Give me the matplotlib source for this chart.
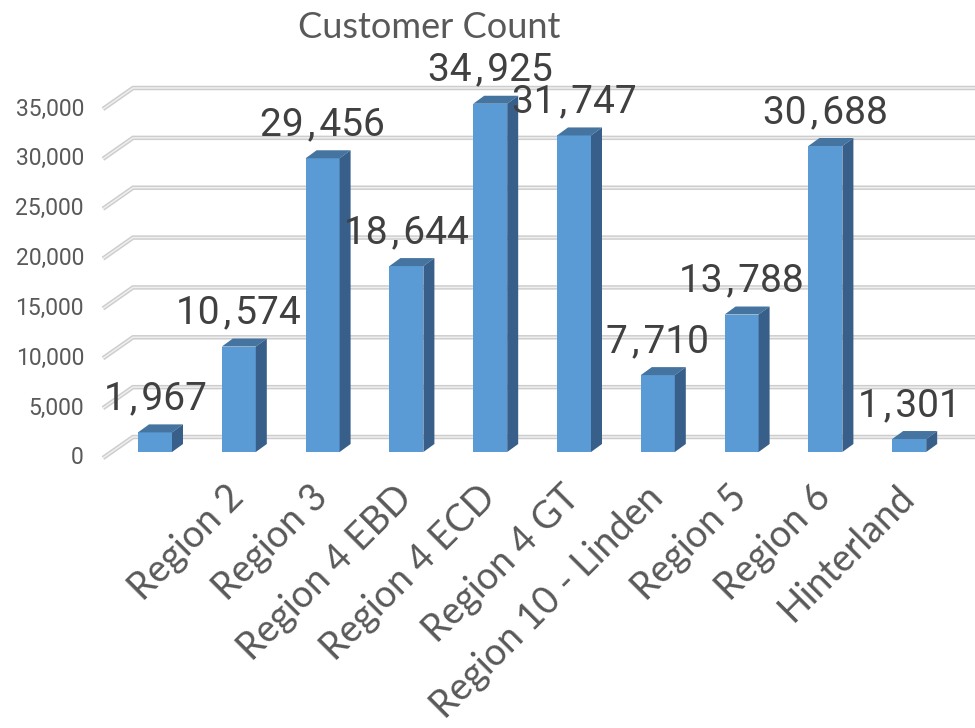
import matplotlib
matplotlib.use("Agg")
import matplotlib.pyplot as plt
from matplotlib.patches import Polygon

# Data
categories = ["", "Region 2", "Region 3", "Region 4 EBD", "Region 4 ECD",
              "Region 4 GT", "Region 10 - Linden", "Region 5", "Region 6",
              "Hinterland"]
customers = [1967, 10574, 29456, 18644, 34925, 31747, 7710, 13788, 30688, 1301]
y_ticks = [0, 5000, 10000, 15000, 20000, 25000, 30000, 35000]
title = "Customer Count"

# Layout (pixels)
W, H = 975, 728
PX_PER_CAT = 83.8
PX_PER_UNIT = 349 / 35000
X0_PX = 155          # first bar centre
BASE_PX = 452        # baseline of the bar front faces (from top)

FRONT = "#5b9bd5"
TOP = "#44749f"
SIDE = "#375f89"

fig = plt.figure(figsize=(W / 100, H / 100), dpi=100)
ax = fig.add_axes([0, 0, 1, 1])
ax.set_xlim(-X0_PX / PX_PER_CAT, (W - X0_PX) / PX_PER_CAT)
ax.set_ylim(-(H - BASE_PX) / PX_PER_UNIT, BASE_PX / PX_PER_UNIT)
ax.axis("off")


def dx(px):
    return px / PX_PER_CAT


def dy(px):
    return px / PX_PER_UNIT


def wide_comma(v):
    # thousands separator set off with hair spaces
    return f"{v:,}".replace(",", "\u200a,\u200a")


# 3-D style gridlines: short slanted segment on the left, then the back wall
x_front = dx(103 - X0_PX)
x_back = dx(133 - X0_PX)
x_end = ax.get_xlim()[1] + 1
for v in y_ticks:
    xs = [x_front, x_back, x_end]
    ys = [v - dy(6), v + dy(15), v + dy(15)]
    ax.plot(xs, ys, color="#cdcdcd", lw=3.2, solid_capstyle="butt",
            solid_joinstyle="miter", zorder=1)
    ax.plot(xs, ys, color="#efefef", lw=1.1, solid_capstyle="butt",
            solid_joinstyle="miter", zorder=1.1)
    ax.text(dx(84 - X0_PX), v - dy(6), f"{v:,}", ha="right", va="center",
            fontsize=16.5, family="Roboto", color="#595959")

# Bars with top and side faces
bw = dx(34)
ddx, ddy = dx(11), dy(8)
idx = list(range(len(customers)))
ax.bar(idx, customers, width=bw, color=FRONT, zorder=3)
for i, v in zip(idx, customers):
    l, r = i - bw / 2, i + bw / 2
    ax.add_patch(Polygon([(l, v), (r, v), (r + ddx, v + ddy), (l + ddx, v + ddy)],
                         closed=True, facecolor=TOP, edgecolor="none", zorder=3))
    ax.add_patch(Polygon([(r, 0), (r, v), (r + ddx, v + ddy), (r + ddx, ddy)],
                         closed=True, facecolor=SIDE, edgecolor="none", zorder=3))
    ax.text(i, v + dy(23), wide_comma(v), ha="center", va="baseline",
            fontsize=28, family=["Roboto", "DejaVu Sans"], color="#404040",
            zorder=4)

# Category labels
for i, lab in zip(idx, categories):
    ax.text(i - dx(13), -dy(27), lab, rotation=45, rotation_mode="anchor",
            ha="right", va="top", fontsize=27, family="Lato", color="#595959")

fig.text(429 / W, 1 - 38 / H, title, ha="center", va="baseline",
         fontsize=26, family="Lato", color="#595959")

fig.savefig("out.png", dpi=100, facecolor="white")
